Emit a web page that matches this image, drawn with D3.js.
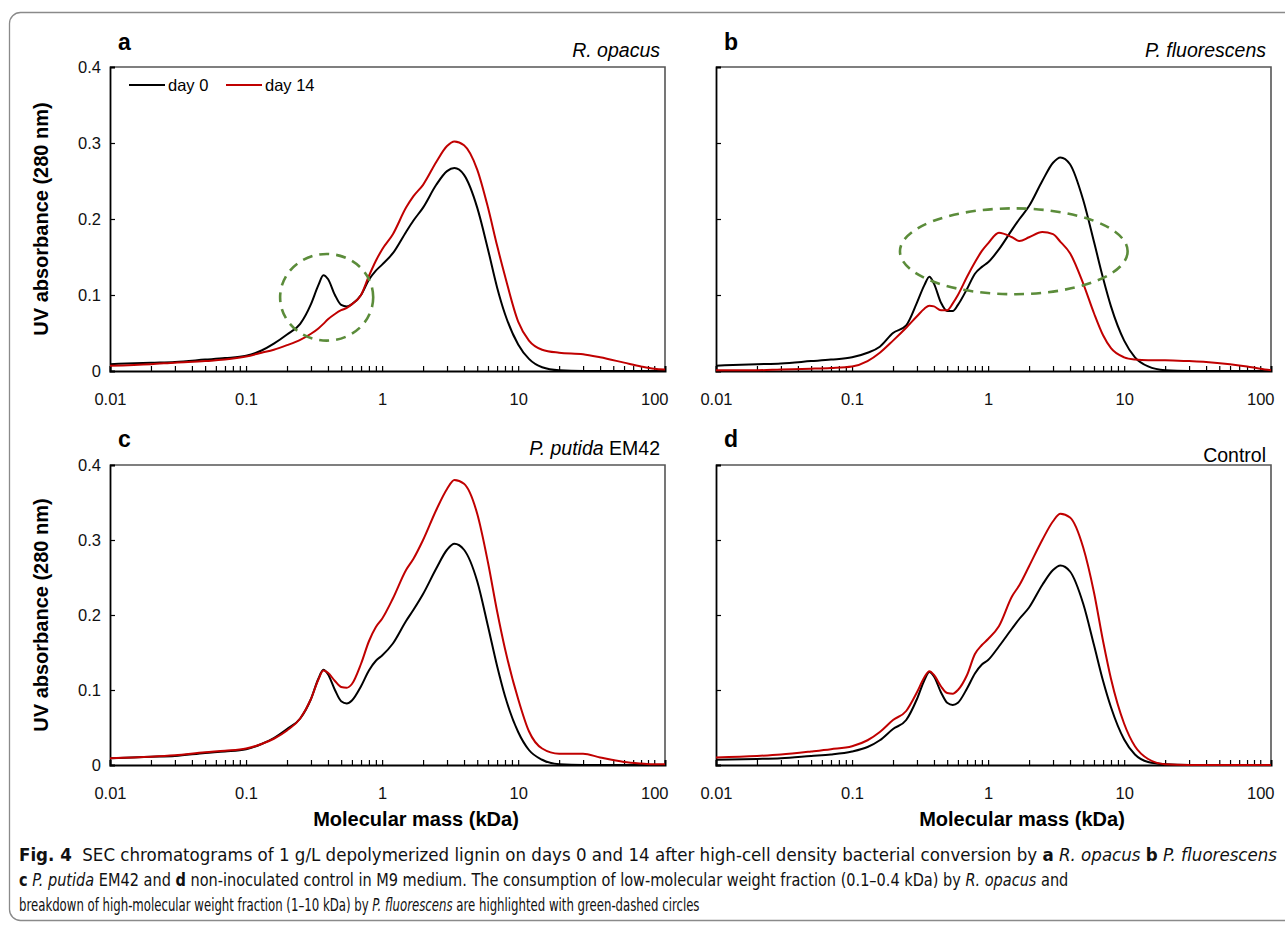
<!DOCTYPE html>
<html>
<head>
<meta charset="utf-8">
<script src="https://cdn.jsdelivr.net/npm/d3@7"></script>
<style>
  body { margin: 0; background: #fff; }
  svg { display: block; }
  text { font-family: "Liberation Sans", Arial, sans-serif; }
</style>
</head>
<body>
<svg id="chart" width="1285" height="925"></svg>
<script>
// molecular mass grid (kDa), shared by every series
var mass = [0.01, 0.02, 0.03, 0.05, 0.07, 0.1, 0.13, 0.16, 0.2, 0.25, 0.3, 0.34, 0.37, 0.4, 0.45,
            0.5, 0.55, 0.6, 0.7, 0.8, 0.9, 1, 1.2, 1.5, 1.7, 2, 2.5, 3, 3.4, 4,
            5, 6, 7, 8, 10, 12, 15, 20, 30, 40, 60, 80, 100, 120];

// UV absorbance (280 nm)
var opacusDay0 = [0.009, 0.011, 0.012, 0.015, 0.017, 0.020, 0.027, 0.036, 0.048, 0.062, 0.088, 0.113, 0.126, 0.121, 0.100,
                  0.087, 0.085, 0.088, 0.100, 0.120, 0.132, 0.140, 0.155, 0.183, 0.198, 0.215, 0.245, 0.263, 0.267, 0.258,
                  0.215, 0.160, 0.110, 0.075, 0.035, 0.016, 0.005, 0.001, 0, 0, 0, 0, 0, 0];
var opacusDay14 = [0.007, 0.009, 0.011, 0.013, 0.015, 0.019, 0.024, 0.028, 0.034, 0.041, 0.049, 0.056, 0.062, 0.068, 0.075,
                   0.080, 0.083, 0.088, 0.100, 0.125, 0.145, 0.160, 0.180, 0.215, 0.230, 0.245, 0.275, 0.296, 0.302, 0.297,
                   0.265, 0.215, 0.165, 0.125, 0.065, 0.040, 0.028, 0.024, 0.022, 0.018, 0.011, 0.006, 0.003, 0.002];

var fluoDay0 = [0.007, 0.009, 0.010, 0.013, 0.015, 0.018, 0.024, 0.032, 0.050, 0.060, 0.090, 0.113, 0.124, 0.115, 0.090,
                0.079, 0.079, 0.087, 0.108, 0.128, 0.137, 0.143, 0.160, 0.186, 0.200, 0.217, 0.250, 0.274, 0.281, 0.272,
                0.225, 0.170, 0.122, 0.085, 0.040, 0.018, 0.006, 0.001, 0, 0, 0, 0, 0, 0];
var fluoDay14 = [0.001, 0.001, 0.002, 0.003, 0.004, 0.006, 0.013, 0.024, 0.040, 0.057, 0.072, 0.082, 0.086, 0.085, 0.080,
                 0.080, 0.089, 0.100, 0.124, 0.143, 0.158, 0.168, 0.182, 0.176, 0.171, 0.176, 0.183, 0.180, 0.170, 0.155,
                 0.115, 0.076, 0.047, 0.030, 0.018, 0.015, 0.014, 0.014, 0.013, 0.012, 0.009, 0.006, 0.003, 0.001];

var putidaDay0 = [0.009, 0.011, 0.012, 0.016, 0.018, 0.021, 0.028, 0.036, 0.048, 0.062, 0.088, 0.115, 0.127, 0.121, 0.100,
                  0.085, 0.082, 0.086, 0.105, 0.126, 0.139, 0.146, 0.162, 0.192, 0.207, 0.228, 0.262, 0.287, 0.295, 0.287,
                  0.245, 0.185, 0.132, 0.092, 0.044, 0.020, 0.007, 0.001, 0, 0, 0, 0, 0, 0];
var putidaDay14 = [0.009, 0.011, 0.013, 0.017, 0.019, 0.022, 0.028, 0.035, 0.046, 0.062, 0.088, 0.114, 0.126, 0.123, 0.112,
                   0.104, 0.103, 0.108, 0.135, 0.165, 0.184, 0.195, 0.222, 0.260, 0.275, 0.300, 0.340, 0.368, 0.380, 0.375,
                   0.335, 0.270, 0.205, 0.155, 0.088, 0.045, 0.022, 0.015, 0.015, 0.010, 0.004, 0.002, 0.001, 0.001];

var controlDay0 = [0.007, 0.008, 0.009, 0.012, 0.014, 0.018, 0.024, 0.033, 0.048, 0.060, 0.088, 0.113, 0.124, 0.118, 0.097,
                   0.083, 0.080, 0.083, 0.102, 0.122, 0.134, 0.140, 0.158, 0.182, 0.195, 0.210, 0.240, 0.260, 0.266, 0.258,
                   0.215, 0.160, 0.112, 0.077, 0.034, 0.014, 0.004, 0.001, 0, 0, 0, 0, 0, 0];
var controlDay14 = [0.010, 0.012, 0.014, 0.018, 0.021, 0.025, 0.033, 0.044, 0.060, 0.072, 0.097, 0.117, 0.125, 0.120, 0.105,
                    0.096, 0.095, 0.100, 0.120, 0.148, 0.160, 0.168, 0.185, 0.225, 0.240, 0.265, 0.300, 0.325, 0.335, 0.330,
                    0.290, 0.230, 0.165, 0.115, 0.055, 0.025, 0.008, 0.001, 0, 0, 0, 0, 0, 0];

var xTickValues = [0.01, 0.1, 1, 10, 100];
var xTickLabels = ["0.01", "0.1", "1", "10", "100"];
var yTickValues = [0, 0.1, 0.2, 0.3, 0.4];
var yTickLabels = ["0", "0.1", "0.2", "0.3", "0.4"];

var panelLetters = ["a", "b", "c", "d"];
var panelNames = [["", "R. opacus"], ["", "P. fluorescens"], ["P. putida", " EM42"], ["Control", ""]];
var seriesNames = ["day 0", "day 14"];
var seriesColors = ["#000000", "#c00000"];

var svg = d3.select("#chart");

// outer frame of the figure
svg.append("rect")
    .attr("x", 9.5).attr("y", 12.5)
    .attr("width", 1310).attr("height", 908)
    .attr("rx", 11)
    .attr("fill", "none")
    .attr("stroke", "#8a8a8a")
    .attr("stroke-width", 1.3);

var panels = [
    { left: 110, top: 67,  right: 665,  bottom: 371, s0: opacusDay0,  s1: opacusDay14,  ylab: true },
    { left: 716, top: 67,  right: 1271, bottom: 371, s0: fluoDay0,    s1: fluoDay14,    ylab: false },
    { left: 110, top: 465, right: 665,  bottom: 765, s0: putidaDay0,  s1: putidaDay14,  ylab: true },
    { left: 716, top: 465, right: 1271, bottom: 765, s0: controlDay0, s1: controlDay14, ylab: false }
];

// minor ticks for the log axis: 1..9 of every decade
var minorTicks = [];
[0.01, 0.1, 1, 10, 100].forEach(function(dec) {
    for (var k = 1; k <= 9; k++) {
        var v = dec * k;
        if (v <= 120) minorTicks.push(v);
    }
});

panels.forEach(function(p, i) {
    var x = d3.scaleLog().domain([0.01, 120]).range([p.left, p.right]);
    var y = d3.scaleLinear().domain([0, 0.4]).range([p.bottom, p.top]);
    var g = svg.append("g");

    // top and right border
    g.append("path")
        .attr("d", "M" + p.left + "," + p.top + "H" + p.right + "V" + p.bottom)
        .attr("fill", "none").attr("stroke", "#555").attr("stroke-width", 1.6);

    // x axis (ticks pointing inwards)
    var xAxis = d3.axisBottom(x)
        .tickValues(minorTicks)
        .tickSize(-5)
        .tickFormat(function(d) {
            var j = xTickValues.findIndex(function(t) { return Math.abs(t - d) < 1e-9; });
            return j >= 0 ? xTickLabels[j] : "";
        });
    var gx = g.append("g")
        .attr("transform", "translate(0," + p.bottom + ")")
        .call(xAxis);
    gx.select(".domain").attr("stroke", "#000").attr("stroke-width", 2);
    gx.selectAll(".tick line").attr("stroke", "#000").attr("stroke-width", 1.2);
    gx.selectAll(".tick text")
        .attr("y", 22)
        .attr("font-size", 16.5)
        .attr("font-family", "Liberation Sans, Arial, sans-serif")
        .attr("fill", "#111");

    // y axis
    var yAxis = d3.axisLeft(y)
        .tickValues(yTickValues)
        .tickSize(-5)
        .tickFormat(function(d, j) { return p.ylab ? yTickLabels[j] : ""; });
    var gy = g.append("g")
        .attr("transform", "translate(" + p.left + ",0)")
        .call(yAxis);
    gy.select(".domain").attr("stroke", "#000").attr("stroke-width", 1.8);
    gy.selectAll(".tick line").attr("stroke", "#000").attr("stroke-width", 1.2);
    gy.selectAll(".tick text")
        .attr("x", -9)
        .attr("font-size", 16.5)
        .attr("font-family", "Liberation Sans, Arial, sans-serif")
        .attr("fill", "#111");

    // curves
    var line = d3.line()
        .x(function(d) { return x(d[0]); })
        .y(function(d) { return y(d[1]); })
        .curve(d3.curveMonotoneX);

    [p.s0, p.s1].forEach(function(s, k) {
        g.append("path")
            .datum(mass.map(function(m, j) { return [m, s[j]]; }))
            .attr("d", line)
            .attr("fill", "none")
            .attr("stroke", seriesColors[k])
            .attr("stroke-width", 2);
    });

    // panel letter
    g.append("text")
        .attr("x", p.left + 8)
        .attr("y", p.top - (i < 2 ? 17 : 18))
        .attr("font-size", 23)
        .attr("font-weight", "bold")
        .text(panelLetters[i]);

    // organism name, right aligned
    var nm = g.append("text")
        .attr("x", p.right - 5)
        .attr("y", p.top - (i === 3 ? 3 : 10))
        .attr("text-anchor", "end")
        .attr("font-size", 19.5);
    if (panelNames[i][0]) nm.append("tspan").attr("font-style", i === 3 ? "normal" : "italic").text(panelNames[i][0]);
    if (panelNames[i][1]) nm.append("tspan").attr("font-style", i < 2 ? "italic" : "normal").text(panelNames[i][1]);

    // axis titles
    if (p.ylab) {
        g.append("text")
            .attr("transform", "translate(48," + ((p.top + p.bottom) / 2) + ") rotate(-90)")
            .attr("text-anchor", "middle")
            .attr("font-size", 20)
            .attr("font-weight", "bold")
            .text("UV absorbance (280 nm)");
    }
    if (i >= 2) {
        g.append("text")
            .attr("x", p.left + 306)
            .attr("y", p.bottom + 61)
            .attr("text-anchor", "middle")
            .attr("font-size", 20)
            .attr("font-weight", "bold")
            .text("Molecular mass (kDa)");
    }

    // legend (panel a only)
    if (i === 0) {
        var legX = [129, 226];
        seriesNames.forEach(function(name, k) {
            g.append("line")
                .attr("x1", legX[k]).attr("x2", legX[k] + 36)
                .attr("y1", 85).attr("y2", 85)
                .attr("stroke", seriesColors[k]).attr("stroke-width", 2);
            g.append("text")
                .attr("x", legX[k] + 39).attr("y", 91)
                .attr("font-size", 16.5)
                .text(name);
        });
    }

    // highlighted regions (green dashed)
    var ell = null;
    if (i === 0) ell = { x0: 0.178, x1: 0.86, y0: 0.04, y1: 0.154 };
    if (i === 1) ell = { x0: 0.225, x1: 10.6, y0: 0.101, y1: 0.214 };
    if (ell) {
        g.append("ellipse")
            .attr("cx", (x(ell.x0) + x(ell.x1)) / 2)
            .attr("cy", (y(ell.y0) + y(ell.y1)) / 2)
            .attr("rx", (x(ell.x1) - x(ell.x0)) / 2)
            .attr("ry", (y(ell.y0) - y(ell.y1)) / 2)
            .attr("fill", "none")
            .attr("stroke", "#5b8c3a")
            .attr("stroke-width", 2.6)
            .attr("stroke-dasharray", "10,7");
    }
});

// caption
var captionLines = [
    [["b", "Fig. 4"], ["n", "  SEC chromatograms of 1 g/L depolymerized lignin on days 0 and 14 after high-cell density bacterial conversion by "],
     ["b", "a"], ["n", " "], ["i", "R. opacus"], ["n", " "], ["b", "b"], ["n", " "], ["i", "P. fluorescens"]],
    [["b", "c"], ["n", " "], ["i", "P. putida"], ["n", " EM42 and "], ["b", "d"],
     ["n", " non-inoculated control in M9 medium. The consumption of low-molecular weight fraction (0.1–0.4 kDa) by "],
     ["i", "R. opacus"], ["n", " and"]],
    [["n", "breakdown of high-molecular weight fraction (1–10 kDa) by "], ["i", "P. fluorescens"],
     ["n", " are highlighted with green-dashed circles"]]
];
var captionRight = [1278, 1069, 700];

captionLines.forEach(function(parts, li) {
    var t = svg.append("text")
        .attr("x", 0).attr("y", 0)
        .attr("font-size", 17)
        .attr("fill", "#111")
        .style("font-family", "'Liberation Sans Narrow', 'DejaVu Sans Condensed', 'Noto Sans', sans-serif")
        .attr("xml:space", "preserve");
    parts.forEach(function(pt) {
        var ts = t.append("tspan").text(pt[1]);
        if (pt[0] === "b") ts.attr("font-weight", "bold");
        if (pt[0] === "i") ts.attr("font-style", "italic");
    });
    var w = t.node().getComputedTextLength();
    var sx = (captionRight[li] - 19) / w;
    t.attr("transform", "translate(19," + (861 + li * 25) + ") scale(" + sx + ",1)");
});
</script>
</body>
</html>
